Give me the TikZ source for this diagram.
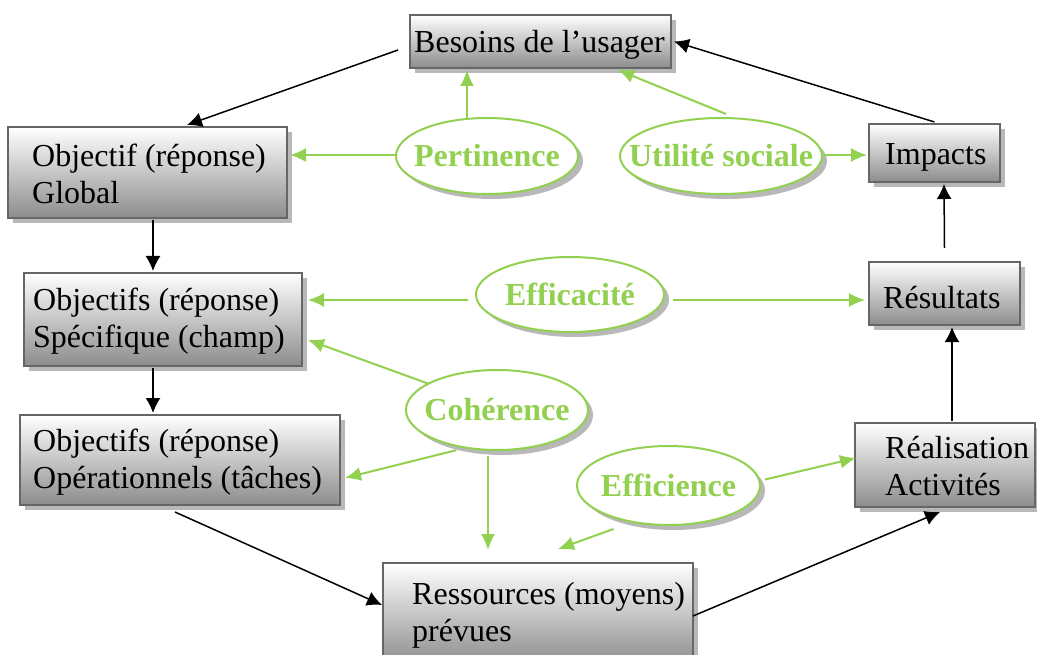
\documentclass[tikz,border=0pt]{standalone}
\usepackage{fontspec}
\setmainfont{Liberation Serif}
\usetikzlibrary{shapes.geometric,shadows,arrows.meta,calc}
\definecolor{grn}{HTML}{92D050}
\tikzset{
 boxnode/.style={rectangle, draw=black!60, line width=2.5pt, top color=white, bottom color=black!45,
   drop shadow={shadow xshift=5pt, shadow yshift=-5pt, fill=black!28, opacity=1},
   inner sep=0pt, outer sep=0pt, anchor=north west},
 txt/.style={font=\fontsize{32}{37}\selectfont, align=left, inner sep=0pt, anchor=west},
 ell/.style={ellipse, draw=grn, line width=2pt, fill=white,
   drop shadow={shadow xshift=5pt, shadow yshift=-5pt, fill=black!28, opacity=1},
   inner sep=0pt, outer sep=0pt, font=\fontsize{32}{37}\selectfont\bfseries, text=grn},
 blk/.style={line width=1.5pt, -{Latex[length=15pt,width=15pt]}},
 garr/.style={draw=grn, line width=2pt, -{Latex[length=16pt,width=14pt]}},
}
\begin{document}
\begin{tikzpicture}[x=1pt,y=-1pt]
\useasboundingbox (0,0) rectangle (1037,655);
% boxes
\node[boxnode, minimum width=261pt, minimum height=53pt] (besoins) at (410,15) {};
\node[boxnode, minimum width=279pt, minimum height=91pt] (objg) at (8,127) {};
\node[boxnode, minimum width=278pt, minimum height=93pt] (spec) at (24,273) {};
\node[boxnode, minimum width=320pt, minimum height=90pt] (oper) at (20,415) {};
\node[boxnode, minimum width=310pt, minimum height=102pt] (ress) at (383,563) {};
\node[boxnode, minimum width=131pt, minimum height=58pt] (impacts) at (869,124) {};
\node[boxnode, minimum width=151pt, minimum height=63pt] (res) at (869,262) {};
\node[boxnode, minimum width=180pt, minimum height=84pt] (real) at (855,423) {};
% box texts
\node[txt] (besoinst) at ([xshift=4pt,yshift=-3pt]besoins.west) {Besoins de l’usager};
\node[txt] (objgt) at ([xshift=24pt,yshift=-1pt]objg.west) {Objectif (réponse)\\Global};
\node[txt] (spect) at ([xshift=9pt,yshift=-2pt]spec.west) {Objectifs (réponse)\\Spécifique (champ)};
\node[txt] (opert) at ([xshift=13pt,yshift=-2pt]oper.west) {Objectifs (réponse)\\Opérationnels (tâches)};
\node[txt] (resst) at ([xshift=29pt,yshift=-1pt]ress.west) {Ressources (moyens)\\prévues};
\node[txt] (impactst) at ([xshift=16pt,yshift=-4pt]impacts.west) {Impacts};
\node[txt] (rest) at ([xshift=14pt,yshift=-4pt]res.west) {Résultats};
\node[txt] (realt) at ([xshift=30pt,yshift=-1pt]real.west) {Réalisation\\Activités};
% ellipses
\node[ell, minimum width=182pt, minimum height=76pt] (pert) at (487,156) {\makebox[0pt]{Pertinence}};
\node[ell, minimum width=202pt, minimum height=76pt] (util) at (721,156) {\makebox[0pt]{Utilité sociale}};
\node[ell, minimum width=188pt, minimum height=75pt] (effa) at (570,294.5) {\makebox[0pt]{Efficacité}};
\node[ell, minimum width=182pt, minimum height=80pt] (coh) at (497,410) {\makebox[0pt]{Cohérence}};
\node[ell, minimum width=183pt, minimum height=79pt] (effi) at (668.5,485.5) {\makebox[0pt]{Efficience}};
% black connectors
\draw[blk] ($(besoins.west)+(-12pt,-8.5pt)$) -- ($(objg.north)+(39.5pt,2pt)$);
\draw[blk] ($(impacts.north)+(0pt,2pt)$) -- ($(besoins.east)+(3pt,0pt)$);
\draw[blk] ($(objg.south)+(5.5pt,-2pt)$) -- ($(spec.north)+(-10pt,2pt)$);
\draw[blk] ($(spec.south)+(-10pt,-2pt)$) -- ($(oper.north)+(-27pt,2pt)$);
\draw[blk] ($(oper.south)+(-5pt,-7pt)$) -- ($(ress.west)+(-1pt,9pt)$);
\draw[blk] ($(ress.east)+(0pt,-2pt)$) -- ($(real.south)+(-5pt,-5pt)$);
\draw[blk] ($(real.north)+(7pt,2pt)$) -- ($(res.south)+(7.5pt,-2pt)$);
\draw[blk] ($(res.north)+(0pt,14pt)$) -- ($(impacts.south)+(9.5pt,-2pt)$);
% green connectors
\draw[garr] ($(pert.west)+(0pt,1pt)$) -- ($(objg.east)+(3pt,17.5pt)$);
\draw[garr] ($(pert.north)+(-20pt,-1pt)$) -- ($(besoins.south)+(-73.5pt,-2pt)$);
\draw[garr] ($(util.north)+(5pt,4pt)$) -- ($(besoins.south)+(77.5pt,-2pt)$);
\draw[garr] ($(util.east)+(2pt,1pt)$) -- ($(impacts.west)+(-2pt,-2pt)$);
\draw[garr] ($(effa.west)+(-8pt,-5.5pt)$) -- ($(spec.east)+(6pt,19.5pt)$);
\draw[garr] ($(effa.east)+(9pt,-5.5pt)$) -- ($(res.west)+(-4pt,-6.5pt)$);
\draw[garr] (coh.159) -- ($(spec.east)+(6pt,-20.5pt)$);
\draw[garr] ($(coh.223)+(-2pt,-4pt)$) -- ($(oper.east)+(5pt,-18pt)$);
\draw[garr] ($(coh.south)+(-9pt,-6pt)$) -- ($(ress.north)+(-50pt,13pt)$);
\draw[garr] ($(effi.south)+(-55pt,-4pt)$) -- ($(ress.north)+(20pt,14pt)$);
\draw[garr] ($(effi.east)+(5pt,6pt)$) -- ($(real.west)+(1pt,7pt)$);
\end{tikzpicture}
\end{document}
